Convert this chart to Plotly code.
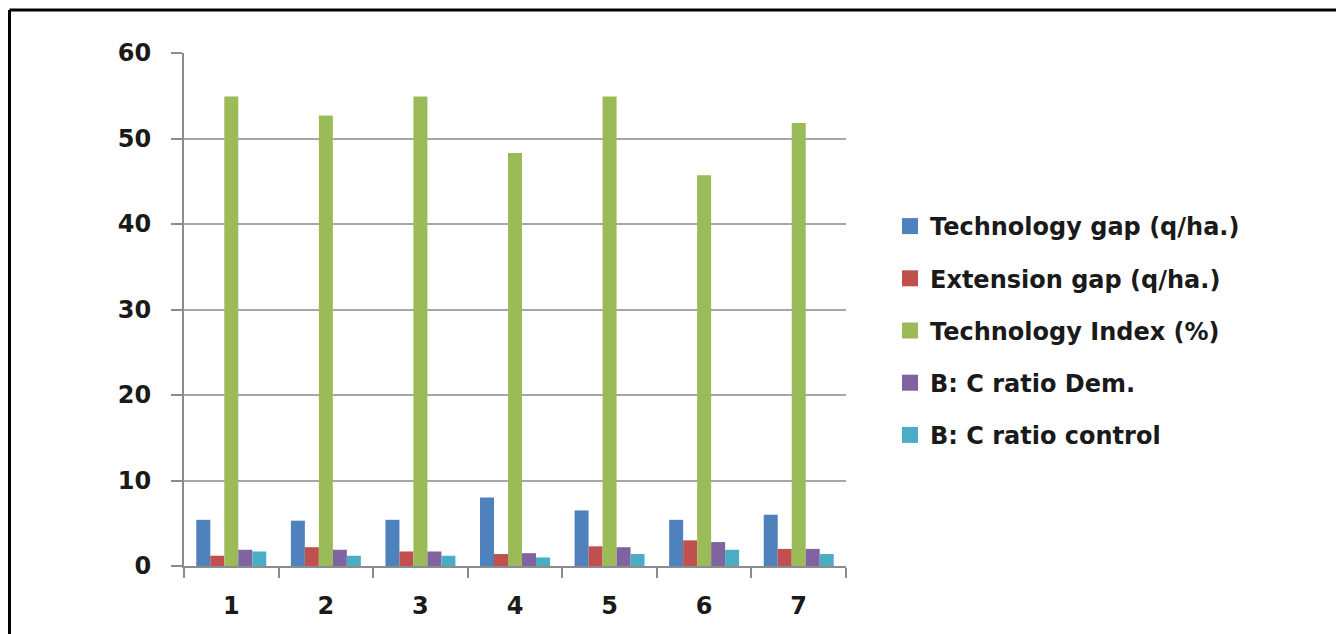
import plotly.graph_objects as go

# Seven demonstration sites
sites = ["1", "2", "3", "4", "5", "6", "7"]

tech_gap = [5.4, 5.3, 5.4, 8.0, 6.5, 5.4, 6.0]
ext_gap = [1.2, 2.2, 1.7, 1.4, 2.3, 3.0, 2.0]
tech_index = [54.9, 52.7, 54.9, 48.3, 54.9, 45.7, 51.8]
bc_dem = [1.9, 1.9, 1.7, 1.5, 2.2, 2.8, 2.0]
bc_control = [1.7, 1.2, 1.2, 1.0, 1.4, 1.9, 1.4]

series = [
    ("Technology gap (q/ha.)", tech_gap, "#4F81BD"),
    ("Extension gap (q/ha.)", ext_gap, "#C0504D"),
    ("Technology Index (%)", tech_index, "#9BBB59"),
    ("B: C ratio Dem.", bc_dem, "#8064A2"),
    ("B: C ratio control", bc_control, "#4BACC6"),
]

W, H = 1336, 634
L, R, T, B = 184, 490, 53, 68
pw, ph = W - L - R, H - T - B

fig = go.Figure()
for i, (name, vals, col) in enumerate(series):
    fig.add_trace(go.Bar(
        x=sites, y=vals, name=name, marker=dict(color=col, line=dict(width=0)),
        legendgroup=f"g{i}", showlegend=False,
    ))
    # legend entry with a larger square swatch
    fig.add_trace(go.Scatter(
        x=[None], y=[None], mode="markers", name=name,
        marker=dict(symbol="square", size=16, color=col, line=dict(width=0)),
        legendgroup=f"g{i}", showlegend=True, hoverinfo="skip",
    ))

font_family = "'DejaVu Sans', sans-serif"
tick_font = dict(family=font_family, size=24, color="#1a1a1a", weight="bold")

fig.update_layout(
    width=W, height=H,
    margin=dict(l=L, r=R, t=T, b=B, pad=0),
    paper_bgcolor="white", plot_bgcolor="white",
    barmode="group", bargap=0.26, bargroupgap=0,
    showlegend=True,
    legend=dict(
        x=(890 - L) / pw, y=1 - (204 - T) / ph, xanchor="left", yanchor="top",
        font=dict(family=font_family, size=24, color="#1a1a1a", weight="bold"),
        traceorder="grouped", tracegroupgap=18, itemwidth=30,
        bgcolor="rgba(0,0,0,0)",
    ),
    xaxis=dict(
        type="category", showgrid=False, showline=True, linecolor="#8c8c8c", linewidth=2,
        ticks="outside", tickson="boundaries", ticklen=10, tickcolor="#8c8c8c", tickwidth=2,
        tickfont=tick_font, ticklabelstandoff=17,
    ),
    yaxis=dict(
        range=[0, 60], dtick=10, showgrid=True, gridcolor="#a6a6a6", gridwidth=2,
        showline=True, linecolor="#8c8c8c", linewidth=2, zeroline=False,
        ticks="outside", ticklen=11, tickcolor="#8c8c8c", tickwidth=2,
        tickfont=tick_font, ticklabelstandoff=15,
    ),
    shapes=[
        # frame lines along the top and left edges
        dict(type="line", xref="paper", yref="paper",
             x0=(9.5 - L) / pw, x1=(W + 5 - L) / pw,
             y0=1 + (T - 10) / ph, y1=1 + (T - 10) / ph,
             line=dict(color="black", width=3)),
        dict(type="line", xref="paper", yref="paper",
             x0=(9.5 - L) / pw, x1=(9.5 - L) / pw,
             y0=1 + (T - 10) / ph, y1=-(B + 5) / ph,
             line=dict(color="black", width=3)),
    ],
)

fig.write_html("out.html")
